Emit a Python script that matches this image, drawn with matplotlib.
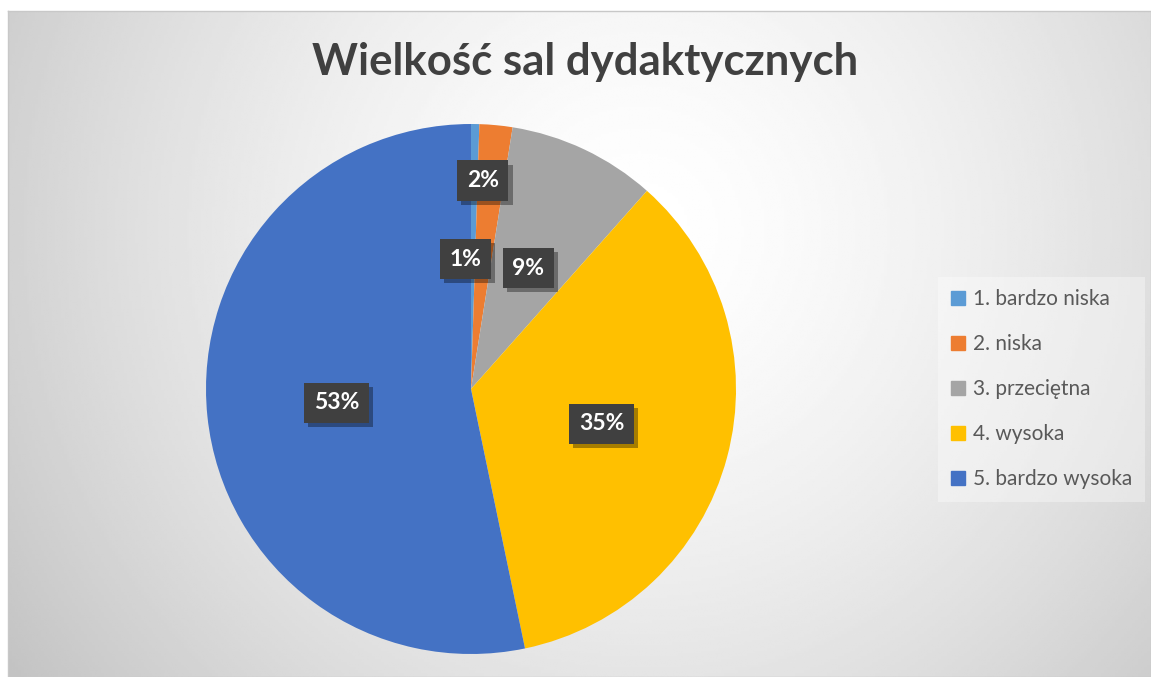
import matplotlib
matplotlib.use("Agg")
import matplotlib.pyplot as plt
import matplotlib.patheffects as pe
import numpy as np
from matplotlib.lines import Line2D

title = "Wielkość sal dydaktycznych"
categories = ["1. bardzo niska", "2. niska", "3. przeciętna", "4. wysoka", "5. bardzo wysoka"]
counts = [1, 4, 18, 70, 106]
colors = ["#5B9BD5", "#ED7D31", "#A5A5A5", "#FFC000", "#4472C4"]
# radial distance of each data label (fraction of radius) and small x nudge
label_r = [0.49, 0.79, 0.505, 0.51, 0.51]
label_dx = [-0.03, -0.03, 0.0, 0.0, 0.0]

W, H = 1151, 677
plt.rcParams["font.family"] = ["Lato", "DejaVu Sans"]
fig = plt.figure(figsize=(W / 100, H / 100), dpi=100)

# background: white page, chart area with radial gradient
bg = fig.add_axes([0, 0, 1, 1])
bg.set_xlim(0, W); bg.set_ylim(H, 0); bg.axis("off")
x0, y0, x1, y1 = 8, 11, W, H
xx, yy = np.meshgrid(np.linspace(x0, x1, 400), np.linspace(y0, y1, 240))
d = np.hypot(xx - 640, yy - 230) / 760
shade = 1 - 0.23 * np.clip(d, 0, 1.2) ** 1.5
bg.imshow(shade, cmap="gray", vmin=0, vmax=1, extent=(x0, x1, y1, y0), aspect="auto", zorder=0)
bg.plot([x0, x1, x1, x0, x0], [y0, y0, y1, y1, y0], color="#c8c8c8", lw=1, zorder=1)
bg.text(585, 62, title, ha="center", va="center", fontsize=31.5, fontweight="bold", color="#404040")

# pie
cx, cy, R = 471, 389, 265
ax = fig.add_axes([(cx - R) / W, (H - cy - R) / H, 2 * R / W, 2 * R / H])
wedges, _ = ax.pie(counts, colors=colors, startangle=90, counterclock=False, radius=1,
                   wedgeprops=dict(linewidth=0))
ax.set_xlim(-1, 1); ax.set_ylim(-1, 1); ax.axis("off")

total = sum(counts)
for w, c, r, dx in zip(wedges, counts, label_r, label_dx):
    mid = np.deg2rad((w.theta1 + w.theta2) / 2)
    px, py = r * np.cos(mid) + dx, r * np.sin(mid)
    t = ax.text(px, py, f"{100 * c / total:.0f}%", ha="center", va="center", fontsize=16.5,
                fontweight="bold", color="white",
                bbox=dict(boxstyle="square,pad=0.42", fc="#404040", ec="none"))
    t.get_bbox_patch().set_path_effects(
        [pe.SimplePatchShadow(offset=(3, -3), shadow_rgbFace="black", alpha=0.35), pe.Normal()])

handles = [Line2D([], [], ls="none", marker="s", markersize=10, color=c) for c in colors]
leg = fig.legend(handles, categories, loc="center",
                 bbox_to_anchor=((937 + 1146) / 2 / W, 1 - 389 / H),
                 fontsize=15, labelspacing=1.2, handlelength=0.7, handletextpad=0.35,
                 borderpad=0.6, borderaxespad=0, frameon=True, fancybox=False)
leg.get_frame().set_facecolor("white")
leg.get_frame().set_alpha(0.35)
leg.get_frame().set_edgecolor("none")
for t in leg.get_texts():
    t.set_color("#595959")

fig.savefig("out.png", dpi=100)
